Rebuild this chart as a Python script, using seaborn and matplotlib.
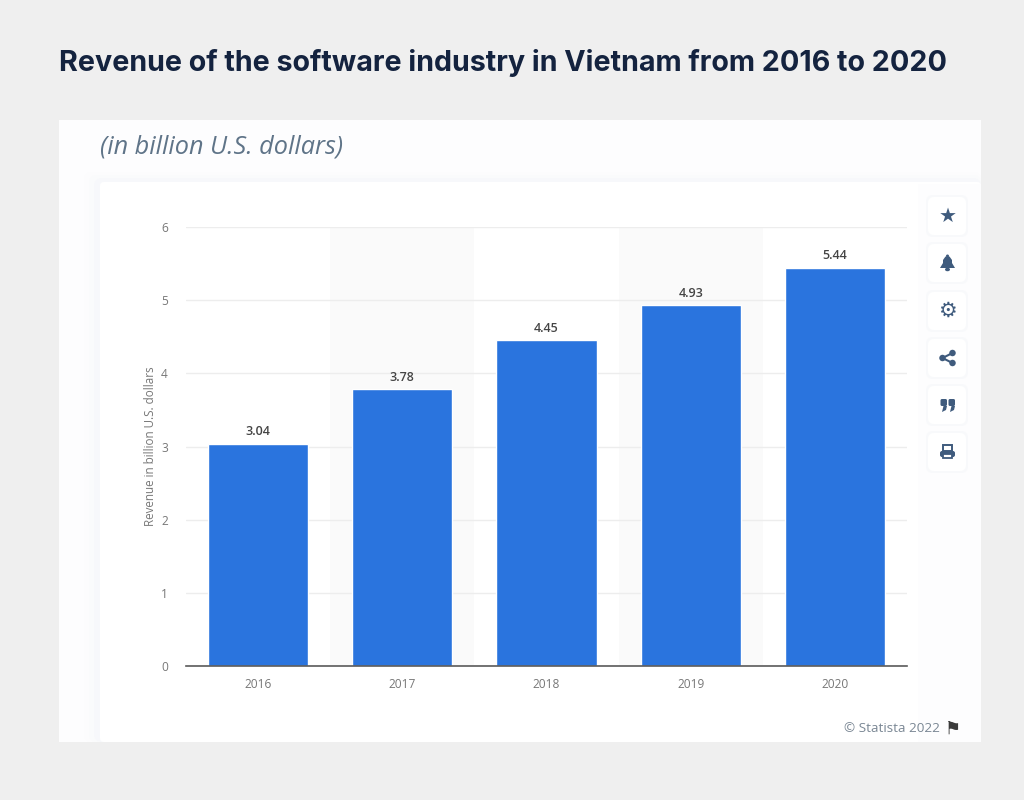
import matplotlib
matplotlib.use("Agg")
import matplotlib.pyplot as plt
import pandas as pd
import seaborn as sns
from matplotlib.patches import Ellipse, FancyBboxPatch, Polygon, Rectangle

years = ["2016", "2017", "2018", "2019", "2020"]
revenue = [3.04, 3.78, 4.45, 4.93, 5.44]
y_ticks = [0, 1, 2, 3, 4, 5, 6]
icon_y = [216, 263, 311, 358, 405, 452]

W, H = 1024, 800
sns.set_theme(style="white")
plt.rcParams["font.family"] = ["Open Sans", "DejaVu Sans"]

df = pd.DataFrame({"Year": years, "Revenue": revenue})

fig = plt.figure(figsize=(W / 100, H / 100), dpi=100, facecolor="#efefef")


# helper: everything outside the axes is placed in reference pixels
def px(x, y):
    return x / W, 1 - y / H


def box(x0, y0, x1, y1, color, z=1, rounding=0):
    if rounding:
        p = FancyBboxPatch(px(x0, y1), (x1 - x0) / W, (y1 - y0) / H,
                           boxstyle="round,pad=0,rounding_size=%f" % (rounding / W),
                           mutation_aspect=W / H,
                           transform=fig.transFigure, fc=color, ec="none", zorder=z)
    else:
        p = Rectangle(px(x0, y1), (x1 - x0) / W, (y1 - y0) / H,
                      transform=fig.transFigure, fc=color, ec="none", zorder=z)
    fig.add_artist(p)


def poly(points, color=None, z=3, **kw):
    fig.add_artist(Polygon([px(*p) for p in points], closed=kw.pop("closed", True),
                           transform=fig.transFigure, fc=color or "none",
                           ec=kw.pop("ec", "none"), lw=kw.pop("lw", 0), zorder=z))


def dot(x, y, w, h, color, z=3):
    fig.add_artist(Ellipse(px(x, y), w / W, h / H, transform=fig.transFigure,
                           fc=color, ec="none", zorder=z))


# page panels sit below the axes, so negative zorder
box(59, 120, 981, 742, "#fdfdfe", z=-5)
for i, c in enumerate(["#fcfcfd", "#fafbfc", "#f7f8fb"]):
    box(84 + i * 5, 172 + i * 3, 981, 742, c, z=-4 + i * 0.1, rounding=8)
box(100, 182, 981, 742, "#ffffff", z=-3, rounding=4)
# soft tint behind the toolbar
box(918, 184, 981, 742, "#fdfdfe", z=-2.5)

fig.text(*px(59, 63), "Revenue of the software industry in Vietnam from 2016 to 2020",
         family="Inter", fontsize=20.65, fontweight="bold", color="#14233f", va="center", ha="left")
fig.text(*px(100, 147), "(in billion U.S. dollars)", fontsize=18.2, style="italic",
         color="#5f7488", va="center", ha="left")

ax = fig.add_axes([186 / W, 1 - 666 / H, (907 - 186) / W, (666 - 227) / H])
ax.patch.set_alpha(0)

for i in [1, 3]:
    ax.axvspan(i - 0.5, i + 0.5, color="#fafafa", lw=0, zorder=0)

sns.barplot(data=df, x="Year", y="Revenue", color="#2a74de", saturation=1, width=0.695, ax=ax, zorder=3)
ax.set_xlim(-0.5, 4.5)
ax.set_ylim(0, 6)
ax.set_yticks(y_ticks)
ax.grid(axis="y", color="#ededed", lw=1)
ax.set_axisbelow(True)
ax.tick_params(axis="both", length=0, labelsize=8.6, labelcolor="#777777")
ax.tick_params(axis="x", pad=9)
ax.tick_params(axis="y", pad=13)
ax.set_xlabel("")
ax.set_ylabel("Revenue in billion U.S. dollars", fontsize=8.4, color="#777777", labelpad=3)

sns.despine(ax=ax, left=True, top=True, right=True)
ax.spines["bottom"].set_color("#5a5a5a")
ax.spines["bottom"].set_linewidth(1.2)
ax.spines["bottom"].set_zorder(5)

ax.bar_label(ax.containers[0], fmt="%.2f", padding=4, fontsize=9, fontweight="semibold", color="#444444")

# toolbar buttons
icon_color = "#3f5b7d"
cx = 947.5
for y in icon_y:
    box(926, y - 21, 968, y + 21, "#f8f9fb", z=2, rounding=7)
    box(928, y - 19, 966, y + 19, "#ffffff", z=2.1, rounding=6)

fig.text(*px(cx, icon_y[0]), "\u2605", family="DejaVu Sans", fontsize=14.5, color=icon_color,
         ha="center", va="center", zorder=3)
fig.text(*px(cx, icon_y[2]), "\u2699", family="DejaVu Sans", fontsize=15, fontweight="bold",
         color=icon_color, ha="center", va="center", zorder=3)

# bell, no installed font has it
by = icon_y[1]
poly([(cx - 7.5, by + 5), (cx - 4.5, by), (cx - 4.5, by - 3), (cx - 2, by - 6.5), (cx + 2, by - 6.5),
      (cx + 4.5, by - 3), (cx + 4.5, by), (cx + 7.5, by + 5)], icon_color)
dot(cx, by - 7, 3, 3, icon_color)
dot(cx, by + 6.5, 5, 3.5, icon_color)

# share icon
sy = icon_y[3]
nodes = [(cx + 5, sy - 5), (cx - 5, sy), (cx + 5, sy + 5)]
poly(nodes, closed=False, ec=icon_color, lw=1.5)
for n in nodes:
    dot(n[0], n[1], 6.5, 6.5, icon_color)

# closing quote marks
qy = icon_y[4]
for qx in [cx - 7, cx + 1]:
    box(qx, qy - 6, qx + 6.5, qy + 1, icon_color, z=3, rounding=1.5)
    poly([(qx + 3, qy + 1), (qx + 6.5, qy + 1), (qx + 5.5, qy + 5), (qx + 1.5, qy + 7)], icon_color)

# print icon
py = icon_y[5]
fig.add_artist(Rectangle(px(cx - 4.5, py - 1), 9 / W, 6 / H, transform=fig.transFigure,
                         fc="none", ec=icon_color, lw=1.4, zorder=3))
box(cx - 7.5, py - 1, cx + 7.5, py + 5, icon_color, z=3, rounding=2)
box(cx - 4.5, py + 2, cx + 4.5, py + 6, "#ffffff", z=3.1)
fig.add_artist(Rectangle(px(cx - 4.5, py + 6), 9 / W, 4 / H, transform=fig.transFigure,
                         fc="none", ec=icon_color, lw=1.3, zorder=3.2))

fig.text(*px(940, 729), "\u00a9 Statista 2022", fontsize=9.7, color="#7a8794", ha="right", va="center")
fig.text(*px(953, 729), "\u2691", family="DejaVu Sans", fontsize=13, color="#3a3a3a", ha="center", va="center")

fig.savefig("out.png", dpi=100, facecolor=fig.get_facecolor())
